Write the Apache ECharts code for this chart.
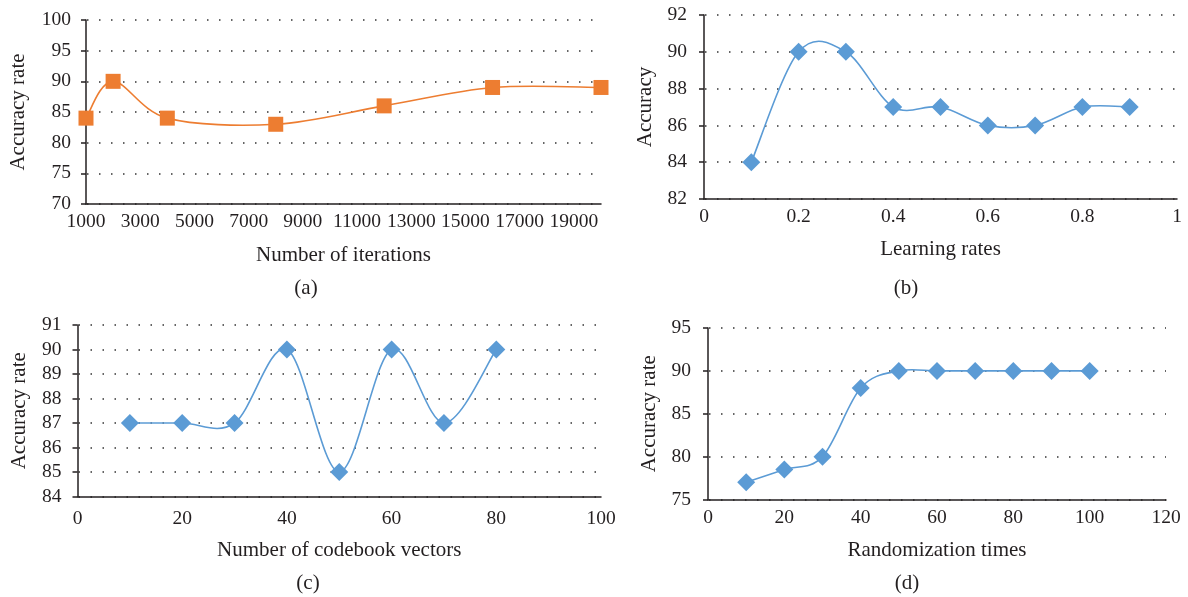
<!DOCTYPE html>
<html>
<head>
<meta charset="utf-8">
<script src="https://cdn.jsdelivr.net/npm/echarts@6/dist/echarts.min.js"></script>
<style>
  html, body { margin: 0; padding: 0; background: #fff; }
  #main { width: 1188px; height: 597px; }
</style>
</head>
<body>
<div id="main"></div>
<script>
// (a) number of iterations
var iterX = [1000, 2000, 4000, 8000, 12000, 16000, 20000];
var iterAcc = [84, 90, 84, 83, 86, 89, 89];
var iterTicks = [1000, 3000, 5000, 7000, 9000, 11000, 13000, 15000, 17000, 19000];
// (b) learning rates
var lrX = [0.1, 0.2, 0.3, 0.4, 0.5, 0.6, 0.7, 0.8, 0.9];
var lrAcc = [84, 90, 90, 87, 87, 86, 86, 87, 87];
// (c) codebook vectors
var cbX = [10, 20, 30, 40, 50, 60, 70, 80];
var cbAcc = [87, 87, 87, 90, 85, 90, 87, 90];
// (d) randomization times
var rndX = [10, 20, 30, 40, 50, 60, 70, 80, 90, 100];
var rndAcc = [77, 78.5, 80, 88, 90, 90, 90, 90, 90, 90];

var ORANGE = '#ED7D31';
var BLUE = '#5B9BD5';
var INK = '#231F20';
var FONT = '"Liberation Serif", "DejaVu Serif", serif';

function zip(xs, ys) {
    return xs.map(function (x, i) { return [x, ys[i]]; });
}

function yAxis(grid, min, max, interval, name, nameGap, labelMargin) {
    return {
        type: 'value', gridIndex: grid, min: min, max: max, interval: interval,
        name: name, nameLocation: 'middle', nameGap: nameGap,
        nameTextStyle: { fontFamily: FONT, fontSize: 21, color: INK },
        axisLine: { show: true, lineStyle: { color: INK, width: 1.5 } },
        axisTick: { show: true, inside: false, length: 5, lineStyle: { color: INK, width: 1.5 } },
        axisLabel: { margin: labelMargin, fontFamily: FONT, fontSize: 19.5, color: INK },
        splitLine: { show: true, lineStyle: { color: '#333', width: 1.5, type: [1.5, 10.5], dashOffset: 11 } }
    };
}

function xAxis(grid, min, max, interval, name, nameGap, labelMargin) {
    return {
        type: 'value', gridIndex: grid, min: min, max: max, interval: interval,
        name: name, nameLocation: 'middle', nameGap: nameGap,
        nameTextStyle: { fontFamily: FONT, fontSize: 21, color: INK },
        axisLine: { show: true, onZero: false, lineStyle: { color: INK, width: 1.5 } },
        axisTick: { show: false },
        axisLabel: { margin: labelMargin, fontFamily: FONT, fontSize: 19.5, color: INK },
        splitLine: { show: false }
    };
}

// Excel-style smoothed line: one cubic bezier per segment (Catmull-Rom, 1/6 tension)
function curveSeries(idx, xs, ys, color) {
    return {
        type: 'custom', xAxisIndex: idx, yAxisIndex: idx,
        data: zip(xs, ys).slice(0, -1),
        encode: { x: 0, y: 1 },
        renderItem: function (params, api) {
            var i = params.dataIndex;
            var n = xs.length;
            var p = function (k) {
                k = Math.max(0, Math.min(n - 1, k));
                return api.coord([xs[k], ys[k]]);
            };
            var p0 = p(i - 1), p1 = p(i), p2 = p(i + 1), p3 = p(i + 2);
            return {
                type: 'bezierCurve',
                shape: {
                    x1: p1[0], y1: p1[1], x2: p2[0], y2: p2[1],
                    cpx1: p1[0] + (p2[0] - p0[0]) / 6, cpy1: p1[1] + (p2[1] - p0[1]) / 6,
                    cpx2: p2[0] - (p3[0] - p1[0]) / 6, cpy2: p2[1] - (p3[1] - p1[1]) / 6
                },
                style: { stroke: color, lineWidth: 1.6, fill: null }
            };
        },
        silent: true,
        animation: false,
        z: 2
    };
}

function markSeries(idx, xs, ys, color, symbol, size) {
    return {
        type: 'scatter', xAxisIndex: idx, yAxisIndex: idx, data: zip(xs, ys),
        symbol: symbol, symbolSize: size,
        itemStyle: { color: color, opacity: 1 },
        animation: false,
        z: 3
    };
}

var chart = echarts.init(document.getElementById('main'), null, { renderer: 'canvas' });

var xa = xAxis(0, 1000, 20000, null, 'Number of iterations', 40.5, 8);
xa.axisLabel.customValues = iterTicks;
xa.axisLabel.formatter = function (v) { return String(v); };

chart.setOption({
    backgroundColor: '#fff',
    grid: [
        { left: 86, top: 20, width: 515, height: 184 },
        { left: 704, top: 15, width: 473, height: 184 },
        { left: 77.5, top: 325, width: 523.5, height: 171.5 },
        { left: 708, top: 328, width: 458, height: 171.5 }
    ],
    xAxis: [
        xa,
        xAxis(1, 0, 1, 0.2, 'Learning rates', 40, 8),
        xAxis(2, 0, 100, 20, 'Number of codebook vectors', 43.5, 12),
        xAxis(3, 0, 120, 20, 'Randomization times', 40, 8)
    ],
    yAxis: [
        yAxis(0, 70, 100, 5, 'Accuracy rate', 57.5, 15),
        yAxis(1, 82, 92, 2, 'Accuracy', 48.5, 17),
        yAxis(2, 84, 91, 1, 'Accuracy rate', 48, 16),
        yAxis(3, 75, 95, 5, 'Accuracy rate', 48.5, 17)
    ],
    series: [
        curveSeries(0, iterX, iterAcc, ORANGE),
        markSeries(0, iterX, iterAcc, ORANGE, 'rect', 15),
        curveSeries(1, lrX, lrAcc, BLUE),
        markSeries(1, lrX, lrAcc, BLUE, 'diamond', 18),
        curveSeries(2, cbX, cbAcc, BLUE),
        markSeries(2, cbX, cbAcc, BLUE, 'diamond', 18),
        curveSeries(3, rndX, rndAcc, BLUE),
        markSeries(3, rndX, rndAcc, BLUE, 'diamond', 18)
    ],
    graphic: [
        { type: 'text', x: 306, y: 288, style: { text: '(a)', font: '21px ' + FONT, fill: INK, textAlign: 'center', textVerticalAlign: 'middle' } },
        { type: 'text', x: 906, y: 288, style: { text: '(b)', font: '21px ' + FONT, fill: INK, textAlign: 'center', textVerticalAlign: 'middle' } },
        { type: 'text', x: 308, y: 583, style: { text: '(c)', font: '21px ' + FONT, fill: INK, textAlign: 'center', textVerticalAlign: 'middle' } },
        { type: 'text', x: 907, y: 583, style: { text: '(d)', font: '21px ' + FONT, fill: INK, textAlign: 'center', textVerticalAlign: 'middle' } }
    ]
});
</script>
</body>
</html>
